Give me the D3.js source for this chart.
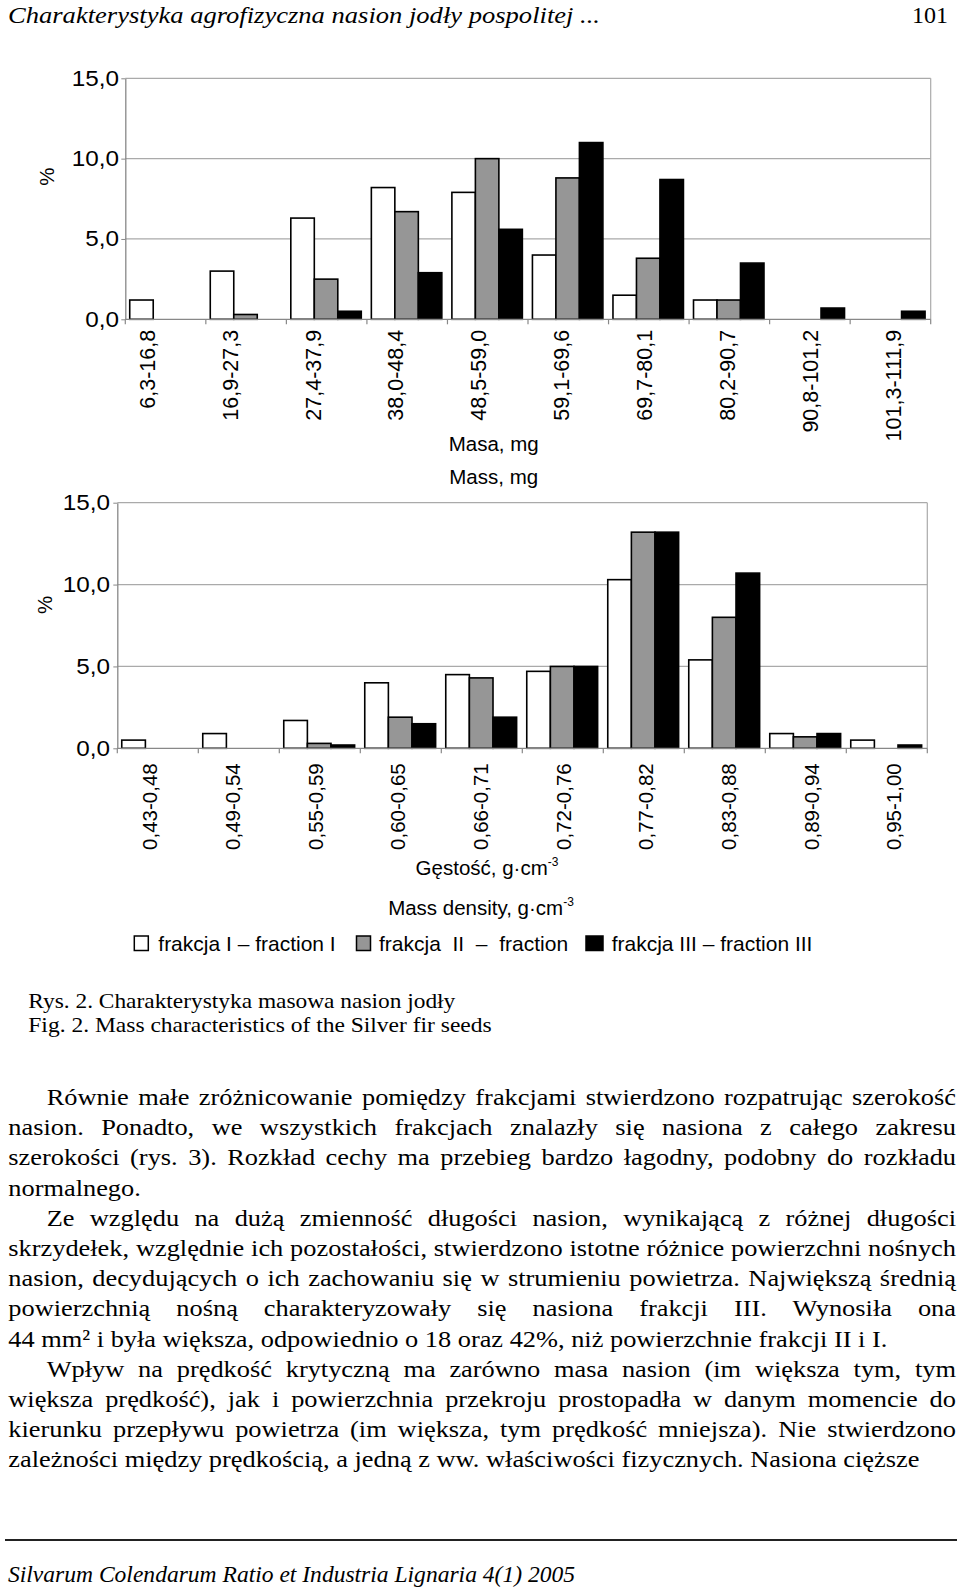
<!DOCTYPE html>
<html>
<head>
<meta charset="utf-8">
<script src="https://cdn.jsdelivr.net/npm/d3@7"></script>
<style>
  html, body { margin: 0; padding: 0; background: #fff; }
  svg { display: block; }
  .sans { font-family: "Liberation Sans", Arial, sans-serif; fill: #000; }
  .serif { font-family: "Liberation Serif", "Times New Roman", Times, serif; fill: #000; }
</style>
</head>
<body>
<svg id="page" width="960" height="1588"></svg>
<script>
// ---------------- DATA ----------------
const massCategories = ["6,3-16,8", "16,9-27,3", "27,4-37,9", "38,0-48,4", "48,5-59,0",
                        "59,1-69,6", "69,7-80,1", "80,2-90,7", "90,8-101,2", "101,3-111,9"];
const massFractionI   = [1.2, 3.0, 6.3, 8.2, 7.9, 4.0, 1.5, 1.2, 0, 0];
const massFractionII  = [0, 0.3, 2.5, 6.7, 10.0, 8.8, 3.8, 1.2, 0, 0];
const massFractionIII = [0, 0, 0.5, 2.9, 5.6, 11.0, 8.7, 3.5, 0.7, 0.5];

const densityCategories = ["0,43-0,48", "0,49-0,54", "0,55-0,59", "0,60-0,65", "0,66-0,71",
                           "0,72-0,76", "0,77-0,82", "0,83-0,88", "0,89-0,94", "0,95-1,00"];
const densityFractionI   = [0.5, 0.9, 1.7, 4.0, 4.5, 4.7, 10.3, 5.4, 0.9, 0.5];
const densityFractionII  = [0, 0, 0.3, 1.9, 4.3, 5.0, 13.2, 8.0, 0.7, 0];
const densityFractionIII = [0, 0, 0.2, 1.5, 1.9, 5.0, 13.2, 10.7, 0.9, 0.2];

const yTicks = [0, 5, 10, 15];
const seriesNames = ["frakcja I \u2013 fraction I", "frakcja  II  \u2013  fraction", "frakcja III \u2013 fraction III"];
const seriesColors = ["#ffffff", "#969696", "#000000"];

const headerText = "Charakterystyka agrofizyczna nasion jodły pospolitej ...";
const pageNumber = "101";
const captionLines = ["Rys. 2. Charakterystyka masowa nasion jodły", "Fig. 2. Mass characteristics of the Silver fir seeds"];
const footerText = "Silvarum Colendarum Ratio et Industria Lignaria 4(1) 2005";
const bodyLines = [
  ["Równie małe zróżnicowanie pomiędzy frakcjami stwierdzono rozpatrując szerokość", 1, 1],
  ["nasion. Ponadto, we wszystkich frakcjach znalazły się nasiona z całego zakresu", 0, 1],
  ["szerokości (rys. 3). Rozkład cechy ma przebieg bardzo łagodny, podobny do rozkładu", 0, 1],
  ["normalnego.", 0, 0],
  ["Ze względu na dużą zmienność długości nasion, wynikającą z różnej długości", 1, 1],
  ["skrzydełek, względnie ich pozostałości, stwierdzono istotne różnice powierzchni nośnych", 0, 1],
  ["nasion, decydujących o ich zachowaniu się w strumieniu powietrza. Największą średnią", 0, 1],
  ["powierzchnią nośną charakteryzowały się nasiona frakcji III. Wynosiła ona", 0, 1],
  ["44 mm² i była większa, odpowiednio o 18 oraz 42%, niż powierzchnie frakcji II i I.", 0, 0],
  ["Wpływ na prędkość krytyczną ma zarówno masa nasion (im większa tym, tym", 1, 1],
  ["większa prędkość), jak i powierzchnia przekroju prostopadła w danym momencie do", 0, 1],
  ["kierunku przepływu powietrza (im większa, tym prędkość mniejsza). Nie stwierdzono", 0, 1],
  ["zależności między prędkością, a jedną z ww. właściwości fizycznych. Nasiona cięższe", 0, 0]
];

// ---------------- DRAWING ----------------
const svg = d3.select("#page");
const fmt = d => d3.format(".1f")(d).replace(".", ",");

function drawChart(cfg) {
  const g = svg.append("g");
  const x = d3.scaleBand().domain(cfg.cats).range([cfg.x0, cfg.x1]).padding(0);
  const y = d3.scaleLinear().domain([0, 15]).range([cfg.yBot, cfg.yTop]);
  const bw = x.bandwidth();
  const inner = d3.scaleBand().domain([0, 1, 2]).range([0, bw * 0.875]).padding(0);
  const off = bw * 0.055;

  g.selectAll("line.grid").data(yTicks.filter(d => d > 0)).join("line")
    .attr("x1", cfg.x0).attr("x2", cfg.x1)
    .attr("y1", d => y(d)).attr("y2", d => y(d))
    .attr("stroke", "#aaaaaa").attr("stroke-width", 1.2);
  g.append("line").attr("x1", cfg.x1).attr("x2", cfg.x1).attr("y1", cfg.yTop).attr("y2", cfg.yBot)
    .attr("stroke", "#aaaaaa").attr("stroke-width", 1.2);

  const bars = [];
  cfg.cats.forEach((c, ci) => cfg.series.forEach((s, si) => {
    if (s[ci] > 0) bars.push({ c, si, v: s[ci] });
  }));
  g.selectAll("rect.bar").data(bars).join("rect")
    .attr("x", d => x(d.c) + off + inner(d.si))
    .attr("y", d => y(d.v))
    .attr("width", inner.bandwidth())
    .attr("height", d => y(0) - y(d.v))
    .attr("fill", d => seriesColors[d.si])
    .attr("stroke", "#000").attr("stroke-width", 1.6);

  const ya = g.append("g").attr("transform", `translate(${cfg.x0},0)`)
    .call(d3.axisLeft(y).tickValues(yTicks).tickSize(4).tickSizeOuter(0)
      .tickPadding(cfg.tickPad).tickFormat(fmt));
  ya.select(".domain").attr("stroke", "#888").attr("stroke-width", 1.3);
  ya.selectAll(".tick line").attr("stroke", "#888");
  ya.selectAll(".tick text").each(function () {
    const t = d3.select(this);
    const tx = +t.attr("x");
    t.attr("x", 0).attr("transform", `translate(${tx},0) scale(1.13,1)`)
      .attr("class", "sans").style("font-size", "21.5px").attr("fill", "#000");
  });

  g.append("line").attr("x1", cfg.x0).attr("x2", cfg.x1).attr("y1", y(0)).attr("y2", y(0))
    .attr("stroke", "#888").attr("stroke-width", 1.3);
  const bounds = cfg.cats.map(c => x(c)).concat([cfg.x1]);
  g.selectAll("line.xt").data(bounds).join("line")
    .attr("x1", d => d).attr("x2", d => d).attr("y1", y(0)).attr("y2", y(0) + 5)
    .attr("stroke", "#888").attr("stroke-width", 1.2);

  const lx = d3.scalePoint().domain(cfg.cats).range(cfg.labelRange);
  g.selectAll("text.cat").data(cfg.cats).join("text")
    .attr("class", "sans")
    .style("font-size", cfg.labelSize + "px")
    .attr("text-anchor", "end")
    .attr("transform", d => `translate(${lx(d)},${y(0) + cfg.labelGap}) rotate(-90)`)
    .attr("dy", "0.36em")
    .text(d => d);

  g.append("text").attr("class", "sans").style("font-size", "20.5px")
    .attr("text-anchor", "middle")
    .attr("transform", `translate(${cfg.pct[0]},${cfg.pct[1]}) rotate(-90)`)
    .attr("dy", "0.36em").text("%");

  cfg.titles.forEach(t => {
    const tx = g.append("text").attr("class", "sans").style("font-size", "20.5px")
      .attr("text-anchor", "middle").attr("x", t.x).attr("y", t.y);
    tx.append("tspan").text(t.text);
    if (t.sup) tx.append("tspan").attr("dy", -9).style("font-size", "12px").text(t.sup);
  });
}

drawChart({
  cats: massCategories,
  series: [massFractionI, massFractionII, massFractionIII],
  x0: 125.3, x1: 930.7, yTop: 78.3, yBot: 319.3,
  tickPad: 2.3,
  labelRange: [147, 893], labelGap: 10.5, labelSize: 21.5,
  pct: [46.7, 176.7],
  titles: [{ text: "Masa, mg", x: 493.7, y: 451 }, { text: "Mass, mg", x: 493.7, y: 484 }]
});

drawChart({
  cats: densityCategories,
  series: [densityFractionI, densityFractionII, densityFractionIII],
  x0: 117.3, x1: 927.3, yTop: 502.7, yBot: 748.3,
  tickPad: 3.3,
  labelRange: [150, 894], labelGap: 15, labelSize: 20.5,
  pct: [45, 605],
  titles: [{ text: "Gęstość, g·cm", sup: "-3", x: 487, y: 875 },
           { text: "Mass density, g·cm", sup: "-3", x: 481, y: 915 }]
});

// legend
const legendBoxes = [[134.3, 14], [356.5, 14], [586, 17]];
const legendTexts = [158.3, 379, 611.7];
const lg = svg.append("g");
lg.selectAll("rect").data(seriesNames).join("rect")
  .attr("x", (d, i) => legendBoxes[i][0]).attr("y", 936)
  .attr("width", (d, i) => legendBoxes[i][1]).attr("height", 14.5)
  .attr("fill", (d, i) => seriesColors[i]).attr("stroke", "#000").attr("stroke-width", 1.5);
lg.selectAll("text").data(seriesNames).join("text")
  .attr("class", "sans").style("font-size", "21px").style("white-space", "pre")
  .attr("x", (d, i) => legendTexts[i]).attr("y", 950.5)
  .text(d => d);

// header
svg.append("text").attr("class", "serif").style("font-size", "24px").style("font-style", "italic")
  .attr("x", 8).attr("y", 22.7).attr("textLength", 592).attr("lengthAdjust", "spacingAndGlyphs")
  .text(headerText);
svg.append("text").attr("class", "serif").style("font-size", "24px")
  .attr("x", 912).attr("y", 22.7).attr("textLength", 36).attr("lengthAdjust", "spacingAndGlyphs")
  .text(pageNumber);

// caption
const capW = [427, 463.4];
svg.selectAll("text.cap").data(captionLines).join("text")
  .attr("class", "serif").style("font-size", "22px")
  .attr("x", 28.3).attr("y", (d, i) => 1008 + i * 23.7)
  .attr("textLength", (d, i) => capW[i]).attr("lengthAdjust", "spacingAndGlyphs")
  .text(d => d);

// body text
const left = 8.3, indentX = 46.7, right = 956, base0 = 1105, lead = 30.2;
const bg = svg.append("g").attr("class", "serif").style("font-size", "24px");
const probe = bg.append("text").text(bodyLines[12][0]);
const sx = 0.985 * (933.7 - left) / probe.node().getComputedTextLength();
probe.remove();
bodyLines.forEach((ln, i) => {
  const x0 = ln[1] ? indentX : left;
  const t = bg.append("text")
    .attr("transform", `translate(${x0},${base0 + i * lead}) scale(${sx},1)`)
    .style("white-space", "pre")
    .text(ln[0]);
  if (ln[2]) {
    const w = t.node().getComputedTextLength();
    const n = (ln[0].match(/ /g) || []).length;
    const target = (right - x0) / sx;
    t.style("word-spacing", ((target - w) / n) + "px");
  }
});

// footer
svg.append("line").attr("x1", 5).attr("x2", 957).attr("y1", 1540).attr("y2", 1540)
  .attr("stroke", "#222").attr("stroke-width", 2);
svg.append("text").attr("class", "serif").style("font-size", "23px").style("font-style", "italic")
  .attr("x", 8).attr("y", 1582).attr("textLength", 567).attr("lengthAdjust", "spacingAndGlyphs")
  .text(footerText);
</script>
</body>
</html>
